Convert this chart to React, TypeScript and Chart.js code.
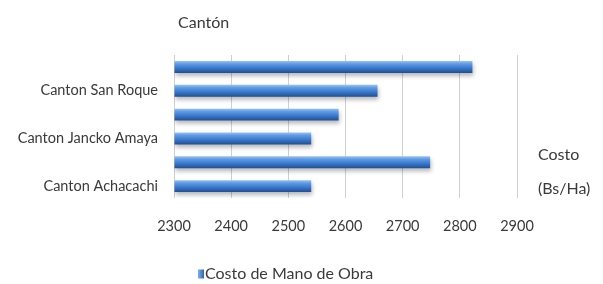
import React, { useEffect, useRef } from "react";
import { Chart, registerables } from "chart.js";

Chart.register(...registerables);

// Categories top to bottom (unlabeled rows in the original shown as blank)
const categories: string[] = ["", "Canton San Roque", "", "Canton Jancko Amaya", "", "Canton Achacachi"];
const seriesName = "Costo de Mano de Obra";
const costValues: number[] = [2822, 2656, 2588, 2540, 2748, 2540];
const xMin = 2300;
const xMax = 2900;
const xStep = 100;
const yAxisTitle = "Cantón";
const xAxisTitleLines: string[] = ["Costo", "(Bs/Ha)"];

const FONT = "Lato, 'Open Sans', sans-serif";
const TEXT = "#3a3a3a";

export default function App() {
  const ref = useRef<HTMLCanvasElement | null>(null);

  useEffect(() => {
    const canvas = ref.current;
    if (!canvas) return;

    const barFill = (c: any) => {
      const chart = c.chart;
      const ys = chart.scales && chart.scales.y;
      if (!ys || c.dataIndex === undefined) return "#4a86d4";
      const cy = ys.getPixelForValue(c.dataIndex);
      if (!Number.isFinite(cy)) return "#4a86d4";
      const half = 6;
      const g = chart.ctx.createLinearGradient(0, cy - half, 0, cy + half);
      g.addColorStop(0, "#9cc3f0");
      g.addColorStop(0.25, "#5d9ae6");
      g.addColorStop(0.55, "#3f7dd0");
      g.addColorStop(1, "#1f4e93");
      return g;
    };

    const decor = {
      id: "decor",
      beforeDatasetsDraw(chart: any) {
        const ctx = chart.ctx;
        ctx.save();
        ctx.shadowColor = "rgba(0,0,0,0.28)";
        ctx.shadowBlur = 4;
        ctx.shadowOffsetY = 3;
        ctx.shadowOffsetX = 1;
      },
      afterDatasetsDraw(chart: any) {
        chart.ctx.restore();
      },
      afterDraw(chart: any) {
        const ctx = chart.ctx;
        const area = chart.chartArea;
        ctx.save();
        ctx.fillStyle = TEXT;
        ctx.font = `16px ${FONT}`;
        ctx.textBaseline = "middle";
        ctx.textAlign = "left";
        ctx.fillText(yAxisTitle, area.left + 4, 23);
        ctx.fillText(xAxisTitleLines[0], area.right + 21, 155);
        ctx.fillText(xAxisTitleLines[1], area.right + 21, 189);
        // legend
        const ds = chart.data.datasets[0];
        const lx = 198;
        const ly = 274;
        const lg = ctx.createLinearGradient(lx, 0, lx + 6, 0);
        lg.addColorStop(0, "#7fb0ee");
        lg.addColorStop(1, "#2f62ad");
        ctx.fillStyle = lg;
        ctx.fillRect(lx, ly - 4.5, 6, 9);
        ctx.fillStyle = TEXT;
        ctx.font = `16px ${FONT}`;
        ctx.fillText(ds.label, lx + 7, ly);
        ctx.restore();
      },
    };

    const chart = new Chart(canvas, {
      type: "bar",
      data: {
        labels: categories,
        datasets: [
          {
            label: seriesName,
            data: costValues,
            backgroundColor: barFill,
            borderWidth: 0,
            barPercentage: 0.5,
            categoryPercentage: 1,
            base: xMin,
          },
        ],
      },
      options: {
        indexAxis: "y",
        responsive: false,
        animation: false,
        layout: { padding: { left: 0, right: 86, top: 55, bottom: 50 } },
        plugins: {
          legend: { display: false },
          tooltip: { enabled: false },
          title: { display: false },
        },
        scales: {
          x: {
            min: xMin,
            max: xMax,
            border: { display: false },
            grid: { color: "#d0d0d0", lineWidth: 1, drawTicks: false },
            ticks: {
              stepSize: xStep,
              padding: 20,
              color: TEXT,
              font: { family: FONT, size: 14.5 },
              callback: (v: any) => String(v),
            },
            afterFit: (s: any) => {
              s.height = 36;
            },
          },
          y: {
            border: { display: false },
            grid: { display: false, drawTicks: false },
            ticks: {
              padding: 16,
              color: TEXT,
              font: { family: FONT, size: 14.5 },
              autoSkip: false,
            },
            afterFit: (s: any) => {
              s.width = 174;
            },
          },
        },
      },
      plugins: [decor],
    });

    return () => chart.destroy();
  }, []);

  return (
    <div style={{ position: "fixed", left: 0, top: 0, width: 603, height: 284, background: "#fff" }}>
      <canvas ref={ref} width={603} height={284} />
    </div>
  );
}
